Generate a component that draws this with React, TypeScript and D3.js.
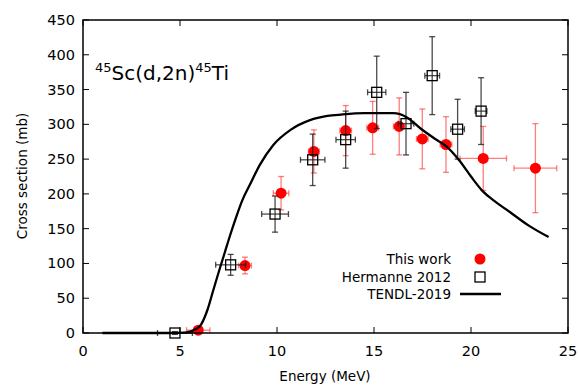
import React from "react";
import * as d3 from "d3";

const xTicks = [0, 5, 10, 15, 20, 25];
const yTicks = [0, 50, 100, 150, 200, 250, 300, 350, 400, 450];

// This work
const twX = [5.94, 8.35, 10.21, 11.9, 13.54, 14.93, 16.3, 17.49, 18.71, 20.63, 23.32];
const twY = [4, 97, 201, 261, 291, 295, 297, 279, 271, 251, 237];
const twYErr = [4, 12, 24, 31, 36, 38, 41, 43, 40, 46, 64];
const twXErr = [0.6, 0.33, 0.4, 0.28, 0.3, 0.3, 0.3, 0.3, 0.3, 1.2, 1.1];

// Hermanne 2012
const hX = [4.74, 7.61, 9.9, 11.84, 13.54, 15.14, 16.65, 18.0, 19.31, 20.52];
const hY = [0, 98, 171, 249, 278, 346, 301, 370, 293, 319];
const hYErr = [2, 15, 26, 37, 41, 52, 45, 56, 43, 48];
const hXErr = [0.9, 0.77, 0.69, 0.63, 0.5, 0.47, 0.4, 0.38, 0.35, 0.3];

// TENDL-2019
const tendlX = [1.0, 4.5, 5.2, 5.5, 6.0, 6.4, 6.7, 7.0, 7.3, 7.6, 7.9, 8.2, 8.6, 9.1, 9.8, 10.7, 11.7, 12.6, 13.3, 14.5, 15.3, 16.0, 16.7, 17.4, 18.1, 18.75, 19.4, 20.0, 20.6, 21.2, 22.0, 23.0, 24.0];
const tendlY = [0, 0, 0.5, 2, 9, 32, 60, 88, 115, 142, 167, 190, 213, 241, 270, 292, 306, 312, 314, 316, 316, 316, 310, 294, 280, 268, 248, 225, 204, 190, 174, 154, 138];

const W = 579, H = 385;
const L = 83, R = 568, T = 20, B = 333;
const FONT = "DejaVu Sans, Verdana, sans-serif";

export default function App() {
  const x = d3.scaleLinear().domain([0, 25]).range([L, R]);
  const y = d3.scaleLinear().domain([0, 450]).range([B, T]);
  const line = d3.line<number>().x((_, i) => x(tendlX[i])).y((d) => y(d)).curve(d3.curveMonotoneX);
  const cap = 3;
  const redErr = "rgba(255,40,40,0.6)";
  const blkErr = "rgba(30,30,30,0.8)";

  const errBars = (xs: number[], ys: number[], xe: number[], ye: number[], col: string, key: string) =>
    xs.map((xv, i) => {
      const cx = x(xv), cy = y(ys[i]);
      const x0 = x(xv - xe[i]), x1 = x(xv + xe[i]);
      const y0 = y(ys[i] - ye[i]), y1 = y(ys[i] + ye[i]);
      return (
        <g key={key + i} stroke={col} strokeWidth={1.3}>
          <line x1={cx} x2={cx} y1={y0} y2={y1} />
          <line x1={cx - cap} x2={cx + cap} y1={y0} y2={y0} />
          <line x1={cx - cap} x2={cx + cap} y1={y1} y2={y1} />
          <line x1={x0} x2={x1} y1={cy} y2={cy} />
          <line x1={x0} x2={x0} y1={cy - cap} y2={cy + cap} />
          <line x1={x1} x2={x1} y1={cy - cap} y2={cy + cap} />
        </g>
      );
    });

  return (
    <svg width={W} height={H} style={{ position: "absolute", left: 0, top: 0, background: "#fff" }} fontFamily={FONT}>
      <rect x={0} y={0} width={W} height={H} fill="#fff" />
      {xTicks.map((t) => (
        <g key={"xt" + t} stroke="#000" strokeWidth={1}>
          <line x1={x(t)} x2={x(t)} y1={B} y2={B - 6} />
          <line x1={x(t)} x2={x(t)} y1={T} y2={T + 6} />
        </g>
      ))}
      {yTicks.map((t) => (
        <g key={"yt" + t} stroke="#000" strokeWidth={1}>
          <line x1={L} x2={L + 6} y1={y(t)} y2={y(t)} />
          <line x1={R} x2={R - 6} y1={y(t)} y2={y(t)} />
        </g>
      ))}
      {xTicks.map((t) => (
        <text key={"xl" + t} x={x(t)} y={356} textAnchor="middle" fontSize={14.5} fill="#000">{t}</text>
      ))}
      {yTicks.map((t) => (
        <text key={"yl" + t} x={75} y={y(t) + 5} textAnchor="end" fontSize={14.5} fill="#000">{t}</text>
      ))}
      <text x={325} y={381} textAnchor="middle" fontSize={13.5}>Energy (MeV)</text>
      <text transform={`translate(27,176) rotate(-90)`} textAnchor="middle" fontSize={13.5}>Cross section (mb)</text>

      <text x={95} y={80} fontSize={20}>
        <tspan fontSize={13} dy={-8}>45</tspan>
        <tspan dy={8}>Sc(d,2n)</tspan>
        <tspan fontSize={13} dy={-8}>45</tspan>
        <tspan dy={8}>Ti</tspan>
      </text>

      {errBars(twX, twY, twXErr, twYErr, redErr, "tw")}
      {twX.map((xv, i) => (
        <circle key={"twc" + i} cx={x(xv)} cy={y(twY[i])} r={5.5} fill="#ff0000" />
      ))}
      {errBars(hX, hY, hXErr, hYErr, blkErr, "h")}
      {hX.map((xv, i) => (
        <rect key={"hs" + i} x={x(xv) - 5} y={y(hY[i]) - 5} width={10} height={10} fill="none" stroke="#000" strokeWidth={1.3} />
      ))}
      <path d={line(tendlY) || ""} fill="none" stroke="#000" strokeWidth={2.3} />

      <rect x={L} y={T} width={R - L} height={B - T} fill="none" stroke="#000" strokeWidth={1.5} />

      <text x={451} y={264} textAnchor="end" fontSize={13.5}>This work</text>
      <circle cx={480} cy={259} r={5.5} fill="#ff0000" />
      <text x={451} y={282} textAnchor="end" fontSize={13.5}>Hermanne 2012</text>
      <rect x={475} y={272} width={10} height={10} fill="none" stroke="#000" strokeWidth={1.3} />
      <text x={451} y={299} textAnchor="end" fontSize={13.5}>TENDL-2019</text>
      <line x1={460} x2={501} y1={294} y2={294} stroke="#000" strokeWidth={2.3} />
    </svg>
  );
}
